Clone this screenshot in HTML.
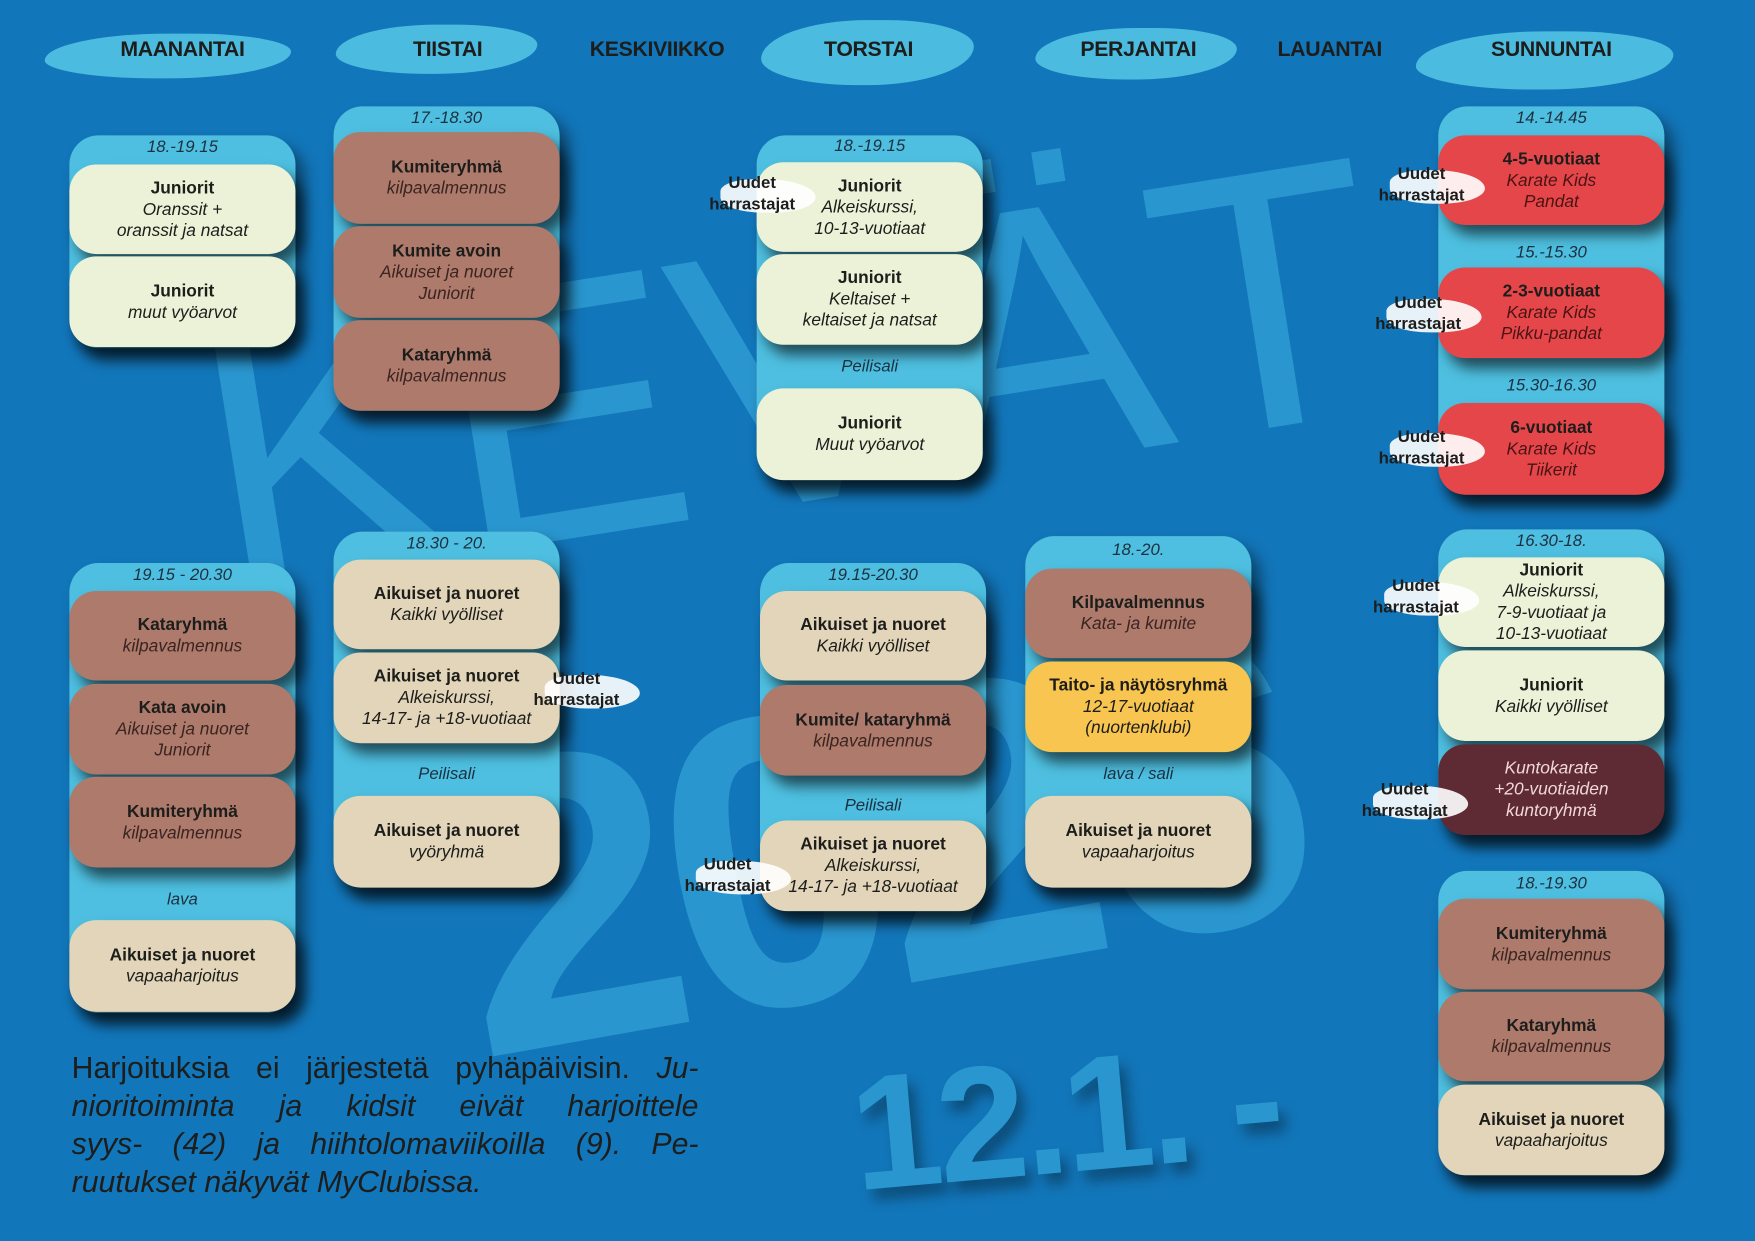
<!DOCTYPE html>
<html><head><meta charset="utf-8"><style>
*{margin:0;padding:0;box-sizing:border-box}
html,body{width:1755px;height:1241px;overflow:hidden;background:#1276ba}
#s{position:absolute;left:0;top:0;width:1568px;height:1109px;transform:scale(1.1193);transform-origin:0 0;font-family:"Liberation Sans",sans-serif;color:#1d1d1b}
.big{position:absolute;color:#2a96cf;font-weight:bold;white-space:nowrap;line-height:1}
.hd{position:absolute;top:34px;font-weight:bold;font-size:19px;transform:translateX(-50%);letter-spacing:-0.3px}
.br{position:absolute;background:#4fc0e1;border-radius:50% 40% 50% 45%/60% 40% 60% 40%;opacity:.95}
.con{position:absolute;width:202px;background:#4ebfe0;border-radius:26px;box-shadow:8px 10px 14px rgba(0,0,0,.45)}
.t{position:absolute;width:202px;text-align:center;font-style:italic;font-size:15px;color:#1d3040}
.c{position:absolute;width:202px;border-radius:24px;text-align:center;font-size:15.5px;line-height:19px;display:flex;flex-direction:column;justify-content:center;box-shadow:7px 9px 12px rgba(0,0,0,.6)}
.c b{font-size:15.5px}
.c i{display:block}
.cr{background:#ecf2d8}.bn{background:#ad7a6c}.bg{background:#e2d5b9}.rd{background:#e5464a}.ye{background:#f8c550}.mr{background:#5e2a33;color:#f0d8d8}
.bn i{color:#3a2420}.rd i{color:#4a1414}
.u{position:absolute;font-weight:bold;font-size:15px;line-height:19px;text-align:center;transform:translateX(-50%)}
.u:before{content:"";position:absolute;left:10px;right:-18px;top:6px;bottom:2px;background:#fff;border-radius:40% 60% 50% 50%;z-index:-1;opacity:.9}
.f{text-align:justify;text-align-last:justify;white-space:nowrap}
</style></head><body><div id="s">
<div class="big" style="left:175px;top:170px;font-size:330px;transform:rotate(-9deg);font-weight:normal;letter-spacing:-5px">KEVÄT</div>
<div class="big" style="left:400px;top:570px;font-size:370px;transform:rotate(-10deg);letter-spacing:-16px">2026</div>
<div class="big" style="left:760px;top:925px;font-size:145px;transform:rotate(-5deg);text-shadow:6px 10px 12px rgba(0,0,0,.35);letter-spacing:-4px">12.1. -</div>

<div class="br" style="left:40px;top:30px;width:220px;height:40px"></div>
<div class="br" style="left:300px;top:22px;width:180px;height:44px"></div>
<div class="br" style="left:680px;top:18px;width:190px;height:58px"></div>
<div class="br" style="left:925px;top:25px;width:180px;height:46px"></div>
<div class="br" style="left:1265px;top:28px;width:230px;height:52px"></div>
<div class="hd" style="left:163px">MAANANTAI</div>
<div class="hd" style="left:400px">TIISTAI</div>
<div class="hd" style="left:587px">KESKIVIIKKO</div>
<div class="hd" style="left:776px">TORSTAI</div>
<div class="hd" style="left:1017px">PERJANTAI</div>
<div class="hd" style="left:1188px">LAUANTAI</div>
<div class="hd" style="left:1386px">SUNNUNTAI</div>

<!-- Monday -->
<div class="con" style="left:62px;top:121px;height:190px"></div>
<div class="t" style="left:62px;top:123px">18.-19.15</div>
<div class="c cr" style="left:62px;top:147px;height:80px"><b>Juniorit</b><i>Oranssit +</i><i>oranssit ja natsat</i></div>
<div class="c cr" style="left:62px;top:229px;height:81px"><b>Juniorit</b><i>muut vyöarvot</i></div>
<div class="con" style="left:62px;top:503px;height:402px"></div>
<div class="t" style="left:62px;top:505px">19.15 - 20.30</div>
<div class="c bn" style="left:62px;top:528px;height:80px"><b>Kataryhmä</b><i>kilpavalmennus</i></div>
<div class="c bn" style="left:62px;top:611px;height:81px"><b>Kata avoin</b><i>Aikuiset ja nuoret</i><i>Juniorit</i></div>
<div class="c bn" style="left:62px;top:694px;height:81px"><b>Kumiteryhmä</b><i>kilpavalmennus</i></div>
<div class="t" style="left:62px;top:795px">lava</div>
<div class="c bg" style="left:62px;top:822px;height:82px"><b>Aikuiset ja nuoret</b><i>vapaaharjoitus</i></div>

<!-- Tuesday -->
<div class="con" style="left:298px;top:95px;height:272px"></div>
<div class="t" style="left:298px;top:97px">17.-18.30</div>
<div class="c bn" style="left:298px;top:118px;height:82px"><b>Kumiteryhmä</b><i>kilpavalmennus</i></div>
<div class="c bn" style="left:298px;top:202px;height:82px"><b>Kumite avoin</b><i>Aikuiset ja nuoret</i><i>Juniorit</i></div>
<div class="c bn" style="left:298px;top:286px;height:81px"><b>Kataryhmä</b><i>kilpavalmennus</i></div>
<div class="con" style="left:298px;top:475px;height:318px"></div>
<div class="t" style="left:298px;top:477px">18.30 - 20.</div>
<div class="c bg" style="left:298px;top:500px;height:80px"><b>Aikuiset ja nuoret</b><i>Kaikki vyölliset</i></div>
<div class="c bg" style="left:298px;top:583px;height:81px"><b>Aikuiset ja nuoret</b><i>Alkeiskurssi,</i><i>14-17- ja +18-vuotiaat</i></div>
<div class="t" style="left:298px;top:683px">Peilisali</div>
<div class="c bg" style="left:298px;top:711px;height:82px"><b>Aikuiset ja nuoret</b><i>vyöryhmä</i></div>

<!-- Thursday -->
<div class="con" style="left:676px;top:121px;height:308px"></div>
<div class="t" style="left:676px;top:122px">18.-19.15</div>
<div class="c cr" style="left:676px;top:145px;height:80px"><b>Juniorit</b><i>Alkeiskurssi,</i><i>10-13-vuotiaat</i></div>
<div class="c cr" style="left:676px;top:227px;height:81px"><b>Juniorit</b><i>Keltaiset +</i><i>keltaiset ja natsat</i></div>
<div class="t" style="left:676px;top:319px">Peilisali</div>
<div class="c cr" style="left:676px;top:347px;height:82px"><b>Juniorit</b><i>Muut vyöarvot</i></div>
<div class="con" style="left:679px;top:503px;height:311px"></div>
<div class="t" style="left:679px;top:505px">19.15-20.30</div>
<div class="c bg" style="left:679px;top:528px;height:80px"><b>Aikuiset ja nuoret</b><i>Kaikki vyölliset</i></div>
<div class="c bn" style="left:679px;top:612px;height:81px"><b>Kumite/ kataryhmä</b><i>kilpavalmennus</i></div>
<div class="t" style="left:679px;top:711px">Peilisali</div>
<div class="c bg" style="left:679px;top:733px;height:81px"><b>Aikuiset ja nuoret</b><i>Alkeiskurssi,</i><i>14-17- ja +18-vuotiaat</i></div>

<!-- Friday -->
<div class="con" style="left:916px;top:479px;height:314px"></div>
<div class="t" style="left:916px;top:483px">18.-20.</div>
<div class="c bn" style="left:916px;top:508px;height:80px"><b>Kilpavalmennus</b><i>Kata- ja kumite</i></div>
<div class="c ye" style="left:916px;top:591px;height:81px"><b>Taito- ja näytösryhmä</b><i>12-17-vuotiaat</i><i>(nuortenklubi)</i></div>
<div class="t" style="left:916px;top:683px">lava / sali</div>
<div class="c bg" style="left:916px;top:711px;height:82px"><b>Aikuiset ja nuoret</b><i>vapaaharjoitus</i></div>

<!-- Sunday -->
<div class="con" style="left:1285px;top:95px;height:347px"></div>
<div class="t" style="left:1285px;top:97px">14.-14.45</div>
<div class="c rd" style="left:1285px;top:121px;height:80px"><b>4-5-vuotiaat</b><i>Karate Kids</i><i>Pandat</i></div>
<div class="t" style="left:1285px;top:217px">15.-15.30</div>
<div class="c rd" style="left:1285px;top:239px;height:81px"><b>2-3-vuotiaat</b><i>Karate Kids</i><i>Pikku-pandat</i></div>
<div class="t" style="left:1285px;top:336px">15.30-16.30</div>
<div class="c rd" style="left:1285px;top:360px;height:82px"><b>6-vuotiaat</b><i>Karate Kids</i><i>Tiikerit</i></div>
<div class="con" style="left:1285px;top:473px;height:273px"></div>
<div class="t" style="left:1285px;top:475px">16.30-18.</div>
<div class="c cr" style="left:1285px;top:498px;height:80px"><b>Juniorit</b><i>Alkeiskurssi,</i><i>7-9-vuotiaat ja</i><i>10-13-vuotiaat</i></div>
<div class="c cr" style="left:1285px;top:581px;height:81px"><b>Juniorit</b><i>Kaikki vyölliset</i></div>
<div class="c mr" style="left:1285px;top:665px;height:81px"><i>Kuntokarate</i><i>+20-vuotiaiden</i><i>kuntoryhmä</i></div>
<div class="con" style="left:1285px;top:778px;height:272px"></div>
<div class="t" style="left:1285px;top:781px">18.-19.30</div>
<div class="c bn" style="left:1285px;top:803px;height:81px"><b>Kumiteryhmä</b><i>kilpavalmennus</i></div>
<div class="c bn" style="left:1285px;top:886px;height:80px"><b>Kataryhmä</b><i>kilpavalmennus</i></div>
<div class="c bg" style="left:1285px;top:969px;height:81px"><b>Aikuiset ja nuoret</b><i>vapaaharjoitus</i></div>

<!-- Uudet harrastajat -->
<div class="u" style="left:672px;top:154px">Uudet<br>harrastajat</div>
<div class="u" style="left:515px;top:597px">Uudet<br>harrastajat</div>
<div class="u" style="left:650px;top:763px">Uudet<br>harrastajat</div>
<div class="u" style="left:1270px;top:146px">Uudet<br>harrastajat</div>
<div class="u" style="left:1267px;top:261px">Uudet<br>harrastajat</div>
<div class="u" style="left:1270px;top:381px">Uudet<br>harrastajat</div>
<div class="u" style="left:1265px;top:514px">Uudet<br>harrastajat</div>
<div class="u" style="left:1255px;top:696px">Uudet<br>harrastajat</div>

<div style="position:absolute;left:64px;top:937px;width:560px;font-size:27px;line-height:34px;color:#1d1d1b">
<div class="f">Harjoituksia ei järjestetä pyhäpäivisin. <i>Ju-</i></div>
<div class="f"><i>nioritoiminta ja kidsit eivät harjoittele</i></div>
<div class="f"><i>syys- (42) ja hiihtolomaviikoilla (9). Pe-</i></div>
<div><i>ruutukset näkyvät MyClubissa.</i></div>
</div>
</div></body></html>
